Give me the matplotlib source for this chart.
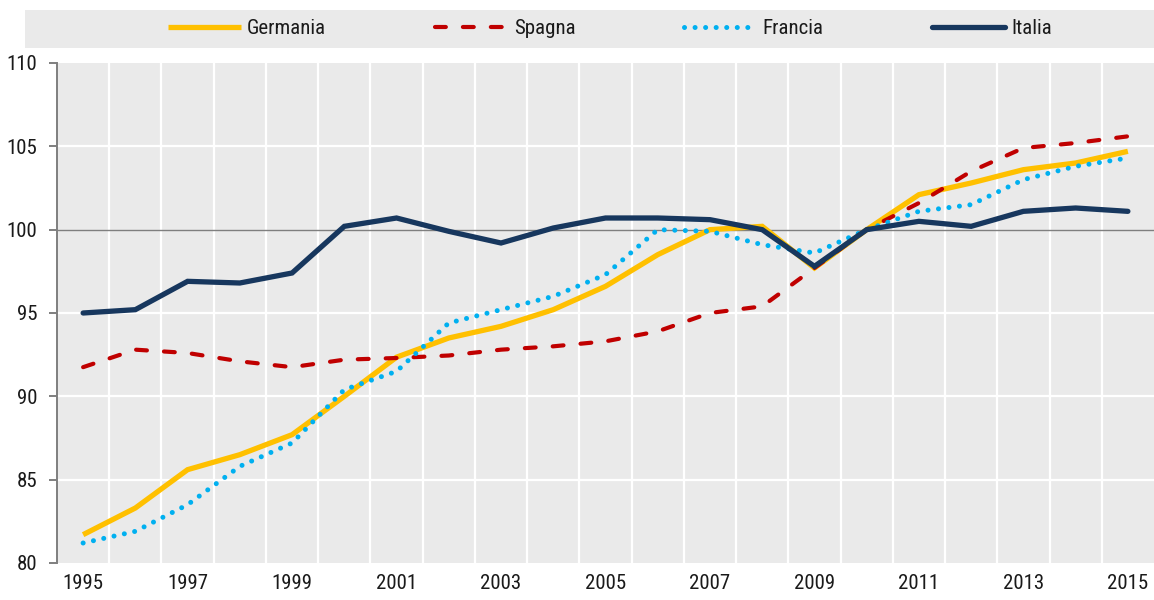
import numpy as np
import matplotlib
matplotlib.use("Agg")
import matplotlib.pyplot as plt
from matplotlib.patches import Rectangle

############################### Data ###########################################
anni = list(range(1995, 2016))
germania = [81.7, 83.3, 85.6, 86.5, 87.7, 90.0, 92.35, 93.5, 94.2, 95.2, 96.6,
            98.5, 100.0, 100.2, 97.7, 100.0, 102.1, 102.8, 103.6, 104.0, 104.7]
spagna = [91.75, 92.8, 92.6, 92.1, 91.75, 92.2, 92.3, 92.45, 92.8, 93.0, 93.3,
          93.9, 95.0, 95.4, 97.7, 100.0, 101.6, 103.5, 104.9, 105.2, 105.6]
francia = [81.2, 81.9, 83.5, 85.8, 87.2, 90.4, 91.5, 94.4, 95.2, 96.0, 97.3,
           100.0, 99.9, 99.1, 98.6, 100.0, 101.1, 101.5, 103.0, 103.8, 104.3]
italia = [95.0, 95.2, 96.9, 96.8, 97.4, 100.2, 100.7, 99.9, 99.2, 100.1, 100.7,
          100.7, 100.6, 100.0, 97.8, 100.0, 100.5, 100.2, 101.1, 101.3, 101.1]
tick_anni = anni[::2]
tick_y = [80, 85, 90, 95, 100, 105, 110]

############################### Style ##########################################
plt.rcParams['font.family'] = ['Roboto Condensed', 'Archivo Narrow', 'DejaVu Sans']
txt = '#1a1a1a'
bg = '#EAEAEA'
fs = 15

fig = plt.figure(figsize=(11.54, 6.0), dpi=100)
ax = fig.add_axes([57/1154, 1-563/600, 1-57/1154, 500/600])
ax.set_facecolor(bg)

# legend band
fig.patches.append(Rectangle((25/1154, 1-48/600), 1-25/1154, 38/600,
                             transform=fig.transFigure, facecolor=bg,
                             edgecolor='none', zorder=0))

# grid (white), between categories on x
for x in np.arange(anni[0]+0.5, anni[-1], 1):
    ax.axvline(x, color='white', lw=1.6, zorder=1)
for y in [85, 90, 95, 105]:
    ax.axhline(y, color='white', lw=1.6, zorder=1)
ax.axhline(100, color='#7f7f7f', lw=1.0, zorder=2)

l1, = ax.plot(anni, germania, color='#FFC000', lw=3.8, label='Germania',
              solid_capstyle='butt', solid_joinstyle='miter', zorder=3)
l2, = ax.plot(anni, spagna, color='#C00000', lw=3.0, label='Spagna',
              dashes=(2.6, 4.1), dash_capstyle='round', zorder=4)
l3, = ax.plot(anni, francia, color='#00B0F0', lw=3.6, label='Francia',
              dashes=(0.01, 2.1), dash_capstyle='round', zorder=5)
l4, = ax.plot(anni, italia, color='#17375E', lw=3.8, label='Italia',
              solid_capstyle='round', solid_joinstyle='miter', zorder=6)

ax.set_xlim(anni[0]-0.5, anni[-1]+0.5)
ax.set_ylim(80, 110)
ax.set_xticks(tick_anni)
ax.set_xticklabels([str(a) for a in tick_anni])
ax.set_yticks(tick_y)
ax.tick_params(axis='x', length=0, pad=8, labelsize=fs, labelcolor=txt)
ax.tick_params(axis='y', length=6, width=1.4, color='#7f7f7f', pad=8,
               labelsize=fs, labelcolor=txt)
for s in ['top', 'right', 'bottom']:
    ax.spines[s].set_visible(False)
ax.spines['left'].set_color('#7f7f7f')
ax.spines['left'].set_linewidth(1.4)

fig.legend(handles=[l1, l2, l3, l4], loc='center', ncol=4,
           bbox_to_anchor=(610/1154, 1-29/600), frameon=False,
           fontsize=fs, handlelength=3.5, columnspacing=5.2,
           handletextpad=0.3, labelcolor=txt)

fig.savefig('out.png', dpi=100)
